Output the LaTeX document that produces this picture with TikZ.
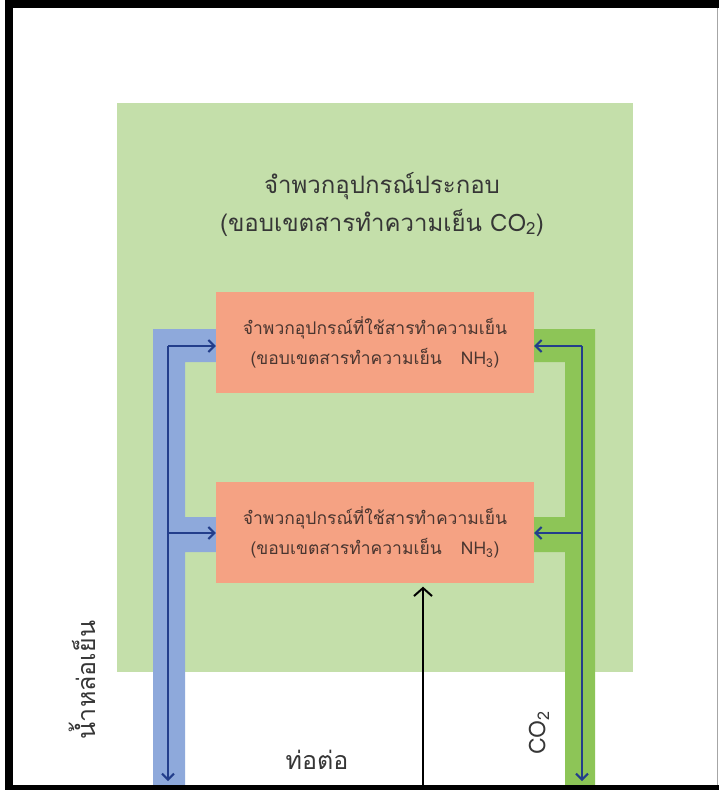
\documentclass[tikz,border=0pt]{standalone}
\usepackage{fontspec}
\newfontfamily\thai[Script=Thai]{Loma}
\usetikzlibrary{arrows.meta,calc}

\definecolor{zonegreen}{HTML}{C4DFAA}
\definecolor{boxorange}{HTML}{F5A283}
\definecolor{pipeblue}{HTML}{8EA9DB}
\definecolor{pipegreen}{HTML}{8DC557}
\definecolor{flowblue}{HTML}{233E8B}
\definecolor{boxtext}{HTML}{4A3630}
\definecolor{labeltext}{HTML}{363636}

\tikzset{
  zone/.style={fill=zonegreen, draw=none, minimum width=516pt, minimum height=569pt, inner sep=0pt},
  unitbox/.style={fill=boxorange, draw=none, minimum width=318pt, minimum height=101pt,
    inner sep=0pt, align=center, text=boxtext, font=\thai\fontsize{17.5}{30}\selectfont},
  title/.style={align=center, text=labeltext, font=\thai\fontsize{24}{38}\selectfont, inner sep=0pt},
  caption/.style={text=labeltext, font=\thai\fontsize{25}{28}\selectfont, inner sep=0pt},
  latincaption/.style={text=labeltext, font=\thai\fontsize{23}{26}\selectfont, inner sep=0pt},
  flow/.style={draw=flowblue, line width=2.5pt,
    -{Straight Barb[length=6pt,width=12pt,line width=2pt]}},
  feed/.style={draw=black, line width=2pt,
    -{Straight Barb[length=8pt,width=18pt,line width=2pt]}},
}

\begin{document}
\begin{tikzpicture}[x=1pt,y=-1pt]
\useasboundingbox (0,0) rectangle (719,790);
\fill[white] (0,0) rectangle (719,790);

% equipment zone of the CO2 circuit
\node[zone] (zone) at (375,387.5) {};
\node[title] (zonetitle) at (382,204)
  {จำพวกอุปกรณ์ประกอบ\\(ขอบเขตสารทำความเย็น CO\textsubscript{2})};

% NH3 units
\node[unitbox] (unitA) at (375,342.5)
  {จำพวกอุปกรณ์ที่ใช้สารทำความเย็น\\(ขอบเขตสารทำความเย็น\hspace{1.1em}NH\textsubscript{3})};
\node[unitbox] (unitB) at (375,532)
  {จำพวกอุปกรณ์ที่ใช้สารทำความเย็น\\(ขอบเขตสารทำความเย็น\hspace{1.1em}NH\textsubscript{3})};

% cooling water pipe (left) and CO2 pipe (right)
\fill[pipeblue] (153,329) -- (unitA.west |- 0,329) -- (unitA.west |- 0,362) -- (185,362)
  -- (185,517) -- (unitB.west |- 0,517) -- (unitB.west |- 0,552) -- (185,552)
  -- (185,785) -- (153,785) -- cycle;
\fill[pipegreen] (unitA.east |- 0,329) -- (595,329) -- (595,785) -- (565,785)
  -- (565,552) -- (unitB.east |- 0,552) -- (unitB.east |- 0,517) -- (565,517)
  -- (565,362) -- (unitA.east |- 0,362) -- cycle;

% flow lines
\coordinate (wtop) at (168,346);
\coordinate (wmid) at (168,533);
\coordinate (wend) at (168,781);
\coordinate (ctop) at (582,346);
\coordinate (cmid) at (582,533);
\coordinate (cend) at (582,781);
\coordinate (tie) at (423,785);

\draw[flow] (wtop) -- (wend);
\draw[flow] (wtop) -- (wtop -| unitA.west);
\draw[flow] (wmid) -- (wmid -| unitB.west);
\draw[flow] (ctop) -- (cend);
\draw[flow] (ctop) -- (ctop -| unitA.east);
\draw[flow] (cmid) -- (cmid -| unitB.east);

% connecting pipe
\draw[feed, shorten >=4pt] (tie) -- (tie |- unitB.south);

% labels
\node[caption] (pipelabel) at (317,760) {ท่อต่อ};
\node[latincaption, rotate=90] (co2label) at (539,733) {CO\textsubscript{2}};
\node[caption, rotate=90] (waterlabel) at (82,680) {น้ำหล่อเย็น};

% frame
\fill[black] (5,0) rectangle (719,8);
\fill[black] (5,0) rectangle (13,790);
\fill[black] (5,785) rectangle (719,790);
\draw[gray!70, line width=1.2pt] (717.5,8) -- (717.5,785);
\end{tikzpicture}
\end{document}
